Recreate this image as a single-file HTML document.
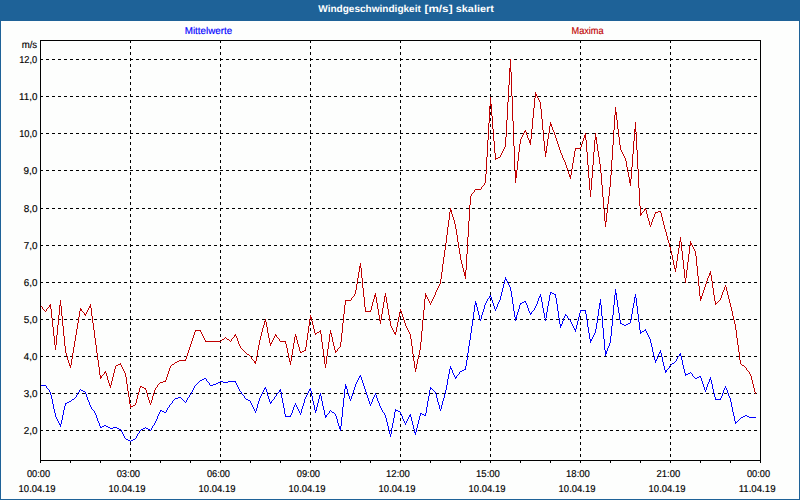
<!DOCTYPE html>
<html><head><meta charset="utf-8">
<style>
html,body{margin:0;padding:0;}
body{width:800px;height:500px;background:#1e6298;position:relative;overflow:hidden;font-family:"Liberation Sans",sans-serif;}
#panel{position:absolute;left:1px;top:21px;width:798px;height:478px;background:#fdfefd;}
svg{position:absolute;left:0;top:0;}
text{font-family:"Liberation Sans",sans-serif;font-size:10px;}
</style></head><body>
<div id="panel"></div>
<svg width="800" height="500" viewBox="0 0 800 500">
<g id="grid" stroke="#000" stroke-width="1" stroke-dasharray="3,3" shape-rendering="crispEdges" fill="none">
<line x1="40" y1="59.5" x2="760" y2="59.5"/>
<line x1="40" y1="96.5" x2="760" y2="96.5"/>
<line x1="40" y1="133.5" x2="760" y2="133.5"/>
<line x1="40" y1="170.5" x2="760" y2="170.5"/>
<line x1="40" y1="208.5" x2="760" y2="208.5"/>
<line x1="40" y1="245.5" x2="760" y2="245.5"/>
<line x1="40" y1="282.5" x2="760" y2="282.5"/>
<line x1="40" y1="319.5" x2="760" y2="319.5"/>
<line x1="40" y1="356.5" x2="760" y2="356.5"/>
<line x1="40" y1="393.5" x2="760" y2="393.5"/>
<line x1="40" y1="430.5" x2="760" y2="430.5"/>
<line x1="130.5" y1="40" x2="130.5" y2="460"/>
<line x1="220.5" y1="40" x2="220.5" y2="460"/>
<line x1="310.5" y1="40" x2="310.5" y2="460"/>
<line x1="400.5" y1="40" x2="400.5" y2="460"/>
<line x1="490.5" y1="40" x2="490.5" y2="460"/>
<line x1="580.5" y1="40" x2="580.5" y2="460"/>
<line x1="670.5" y1="40" x2="670.5" y2="460"/>
</g>
<g id="lines" stroke="none" shape-rendering="crispEdges">
<path fill="#c00000" d="M40 305h1v1h-1zM41 306h1v1h-1zM42 307h1v2h-1zM43 309h1v1h-1zM44 310h1v1h-1zM45 311h1v1h-1zM46 309h1v2h-1zM47 308h1v1h-1zM48 307h1v1h-1zM49 305h1v2h-1zM50 304h1v5h-1zM51 309h1v9h-1zM52 318h1v9h-1zM53 327h1v9h-1zM54 336h1v9h-1zM55 345h1v5h-1zM56 335h1v10h-1zM57 325h1v10h-1zM58 315h1v10h-1zM59 305h1v10h-1zM60 300h1v6h-1zM61 306h1v10h-1zM62 316h1v10h-1zM63 326h1v10h-1zM64 336h1v10h-1zM65 346h1v7h-1zM66 353h1v3h-1zM67 356h1v4h-1zM68 360h1v3h-1zM69 363h1v3h-1zM70 365h1v3h-1zM71 359h1v6h-1zM72 353h1v6h-1zM73 347h1v6h-1zM74 341h1v6h-1zM75 335h1v6h-1zM76 329h1v6h-1zM77 323h1v6h-1zM78 317h1v6h-1zM79 311h1v6h-1zM80 308h1v3h-1zM81 309h1v2h-1zM82 311h1v1h-1zM83 312h1v1h-1zM84 313h1v2h-1zM85 314h1v2h-1zM86 312h1v2h-1zM87 310h1v2h-1zM88 308h1v2h-1zM89 306h1v2h-1zM90 304h1v4h-1zM91 308h1v8h-1zM92 316h1v7h-1zM93 323h1v7h-1zM94 330h1v8h-1zM95 338h1v7h-1zM96 345h1v8h-1zM97 353h1v7h-1zM98 360h1v7h-1zM99 367h1v8h-1zM100 375h1v4h-1zM101 376h1v2h-1zM102 375h1v1h-1zM103 374h1v1h-1zM104 372h1v2h-1zM105 371h1v2h-1zM106 373h1v3h-1zM107 376h1v4h-1zM108 380h1v3h-1zM109 383h1v3h-1zM110 385h1v3h-1zM111 381h1v4h-1zM112 377h1v4h-1zM113 373h1v4h-1zM114 369h1v4h-1zM115 366h1v3h-1zM116 365h1v1h-1zM117 365h1v1h-1zM118 364h1v1h-1zM119 364h1v1h-1zM120 363h1v2h-1zM121 365h1v2h-1zM122 367h1v2h-1zM123 369h1v2h-1zM124 371h1v2h-1zM125 373h1v4h-1zM126 377h1v7h-1zM127 384h1v7h-1zM128 391h1v6h-1zM129 397h1v7h-1zM130 404h1v4h-1zM131 406h1v1h-1zM132 406h1v1h-1zM133 405h1v1h-1zM134 405h1v1h-1zM135 403h1v2h-1zM136 399h1v4h-1zM137 395h1v4h-1zM138 392h1v3h-1zM139 388h1v4h-1zM140 386h1v2h-1zM141 386h1v1h-1zM142 387h1v1h-1zM143 387h1v1h-1zM144 388h1v1h-1zM145 388h1v2h-1zM146 390h1v3h-1zM147 393h1v4h-1zM148 397h1v3h-1zM149 400h1v3h-1zM150 403h1v2h-1zM151 400h1v3h-1zM152 396h1v4h-1zM153 393h1v3h-1zM154 390h1v3h-1zM155 388h1v2h-1zM156 387h1v1h-1zM157 385h1v2h-1zM158 384h1v1h-1zM159 383h1v1h-1zM160 382h1v1h-1zM161 382h1v1h-1zM162 382h1v1h-1zM163 381h1v1h-1zM164 381h1v1h-1zM165 380h1v2h-1zM166 377h1v3h-1zM167 374h1v3h-1zM168 371h1v3h-1zM169 368h1v3h-1zM170 366h1v2h-1zM171 365h1v1h-1zM172 364h1v1h-1zM173 364h1v1h-1zM174 363h1v1h-1zM175 362h1v1h-1zM176 362h1v1h-1zM177 361h1v1h-1zM178 361h1v1h-1zM179 360h1v1h-1zM180 360h1v1h-1zM181 360h1v1h-1zM182 360h1v1h-1zM183 360h1v1h-1zM184 360h1v1h-1zM185 359h1v2h-1zM186 356h1v3h-1zM187 353h1v3h-1zM188 350h1v3h-1zM189 347h1v3h-1zM190 344h1v3h-1zM191 341h1v3h-1zM192 338h1v3h-1zM193 335h1v3h-1zM194 332h1v3h-1zM195 330h1v2h-1zM196 330h1v1h-1zM197 330h1v1h-1zM198 330h1v1h-1zM199 330h1v1h-1zM200 330h1v2h-1zM201 332h1v2h-1zM202 334h1v2h-1zM203 336h1v2h-1zM204 338h1v2h-1zM205 340h1v2h-1zM206 341h1v1h-1zM207 341h1v1h-1zM208 341h1v1h-1zM209 341h1v1h-1zM210 341h1v1h-1zM211 341h1v1h-1zM212 341h1v1h-1zM213 341h1v1h-1zM214 341h1v1h-1zM215 341h1v1h-1zM216 341h1v1h-1zM217 341h1v1h-1zM218 341h1v1h-1zM219 341h1v1h-1zM220 341h1v1h-1zM221 340h1v1h-1zM222 339h1v1h-1zM223 339h1v1h-1zM224 338h1v1h-1zM225 337h1v1h-1zM226 338h1v1h-1zM227 339h1v1h-1zM228 339h1v1h-1zM229 340h1v1h-1zM230 341h1v1h-1zM231 339h1v2h-1zM232 338h1v1h-1zM233 337h1v1h-1zM234 335h1v2h-1zM235 334h1v2h-1zM236 336h1v2h-1zM237 338h1v3h-1zM238 341h1v3h-1zM239 344h1v2h-1zM240 346h1v2h-1zM241 348h1v1h-1zM242 349h1v1h-1zM243 350h1v1h-1zM244 351h1v1h-1zM245 352h1v1h-1zM246 353h1v1h-1zM247 354h1v1h-1zM248 354h1v1h-1zM249 355h1v1h-1zM250 356h1v1h-1zM251 357h1v2h-1zM252 359h1v1h-1zM253 360h1v1h-1zM254 361h1v2h-1zM255 361h1v3h-1zM256 356h1v5h-1zM257 350h1v6h-1zM258 345h1v5h-1zM259 340h1v5h-1zM260 336h1v4h-1zM261 332h1v4h-1zM262 328h1v4h-1zM263 325h1v3h-1zM264 321h1v4h-1zM265 319h1v3h-1zM266 322h1v5h-1zM267 327h1v6h-1zM268 333h1v5h-1zM269 338h1v5h-1zM270 343h1v3h-1zM271 342h1v2h-1zM272 340h1v2h-1zM273 338h1v2h-1zM274 336h1v2h-1zM275 334h1v2h-1zM276 335h1v2h-1zM277 337h1v1h-1zM278 338h1v1h-1zM279 339h1v2h-1zM280 341h1v1h-1zM281 341h1v1h-1zM282 341h1v1h-1zM283 341h1v1h-1zM284 341h1v1h-1zM285 341h1v3h-1zM286 344h1v4h-1zM287 348h1v5h-1zM288 353h1v5h-1zM289 358h1v4h-1zM290 361h1v4h-1zM291 355h1v6h-1zM292 349h1v6h-1zM293 343h1v6h-1zM294 337h1v6h-1zM295 334h1v3h-1zM296 336h1v4h-1zM297 340h1v4h-1zM298 344h1v3h-1zM299 347h1v4h-1zM300 351h1v2h-1zM301 352h1v1h-1zM302 351h1v1h-1zM303 351h1v1h-1zM304 350h1v1h-1zM305 347h1v4h-1zM306 340h1v7h-1zM307 333h1v7h-1zM308 326h1v7h-1zM309 319h1v7h-1zM310 315h1v4h-1zM311 317h1v4h-1zM312 321h1v4h-1zM313 325h1v4h-1zM314 329h1v4h-1zM315 333h1v2h-1zM316 333h1v1h-1zM317 332h1v1h-1zM318 332h1v1h-1zM319 331h1v1h-1zM320 330h1v4h-1zM321 334h1v8h-1zM322 342h1v7h-1zM323 349h1v7h-1zM324 356h1v8h-1zM325 364h1v4h-1zM326 356h1v8h-1zM327 349h1v7h-1zM328 342h1v7h-1zM329 334h1v8h-1zM330 330h1v4h-1zM331 333h1v4h-1zM332 337h1v5h-1zM333 342h1v4h-1zM334 346h1v4h-1zM335 350h1v3h-1zM336 351h1v1h-1zM337 349h1v2h-1zM338 348h1v1h-1zM339 347h1v1h-1zM340 342h1v5h-1zM341 333h1v9h-1zM342 323h1v10h-1zM343 314h1v9h-1zM344 305h1v9h-1zM345 300h1v5h-1zM346 300h1v1h-1zM347 300h1v1h-1zM348 300h1v1h-1zM349 300h1v1h-1zM350 300h1v1h-1zM351 298h1v2h-1zM352 297h1v1h-1zM353 296h1v1h-1zM354 294h1v2h-1zM355 290h1v4h-1zM356 284h1v6h-1zM357 278h1v6h-1zM358 272h1v6h-1zM359 266h1v6h-1zM360 263h1v5h-1zM361 268h1v10h-1zM362 278h1v10h-1zM363 288h1v9h-1zM364 297h1v10h-1zM365 307h1v5h-1zM366 311h1v1h-1zM367 311h1v1h-1zM368 311h1v1h-1zM369 311h1v1h-1zM370 310h1v2h-1zM371 306h1v4h-1zM372 302h1v4h-1zM373 299h1v3h-1zM374 295h1v4h-1zM375 293h1v4h-1zM376 297h1v6h-1zM377 303h1v6h-1zM378 309h1v6h-1zM379 315h1v6h-1zM380 320h1v4h-1zM381 314h1v6h-1zM382 308h1v6h-1zM383 302h1v6h-1zM384 296h1v6h-1zM385 293h1v4h-1zM386 297h1v6h-1zM387 303h1v6h-1zM388 309h1v6h-1zM389 315h1v6h-1zM390 321h1v5h-1zM391 326h1v2h-1zM392 328h1v2h-1zM393 330h1v2h-1zM394 332h1v2h-1zM395 332h1v3h-1zM396 327h1v5h-1zM397 322h1v5h-1zM398 317h1v5h-1zM399 312h1v5h-1zM400 309h1v3h-1zM401 311h1v3h-1zM402 314h1v3h-1zM403 317h1v3h-1zM404 320h1v3h-1zM405 323h1v3h-1zM406 326h1v2h-1zM407 328h1v2h-1zM408 330h1v2h-1zM409 332h1v2h-1zM410 334h1v5h-1zM411 339h1v7h-1zM412 346h1v8h-1zM413 354h1v7h-1zM414 361h1v7h-1zM415 368h1v4h-1zM416 364h1v5h-1zM417 359h1v5h-1zM418 355h1v4h-1zM419 350h1v5h-1zM420 342h1v8h-1zM421 331h1v11h-1zM422 320h1v11h-1zM423 310h1v10h-1zM424 299h1v11h-1zM425 293h1v6h-1zM426 295h1v2h-1zM427 297h1v2h-1zM428 299h1v2h-1zM429 301h1v2h-1zM430 303h1v2h-1zM431 301h1v2h-1zM432 299h1v2h-1zM433 297h1v2h-1zM434 295h1v2h-1zM435 292h1v3h-1zM436 290h1v2h-1zM437 288h1v2h-1zM438 286h1v2h-1zM439 284h1v2h-1zM440 279h1v5h-1zM441 272h1v7h-1zM442 264h1v8h-1zM443 257h1v7h-1zM444 250h1v7h-1zM445 243h1v7h-1zM446 235h1v8h-1zM447 227h1v8h-1zM448 220h1v7h-1zM449 212h1v8h-1zM450 208h1v4h-1zM451 210h1v4h-1zM452 214h1v3h-1zM453 217h1v3h-1zM454 220h1v4h-1zM455 224h1v5h-1zM456 229h1v6h-1zM457 235h1v7h-1zM458 242h1v6h-1zM459 248h1v6h-1zM460 254h1v6h-1zM461 260h1v4h-1zM462 264h1v4h-1zM463 268h1v4h-1zM464 272h1v4h-1zM465 270h1v9h-1zM466 254h1v16h-1zM467 237h1v17h-1zM468 221h1v16h-1zM469 205h1v16h-1zM470 196h1v9h-1zM471 194h1v2h-1zM472 193h1v1h-1zM473 192h1v1h-1zM474 190h1v2h-1zM475 189h1v1h-1zM476 189h1v1h-1zM477 189h1v1h-1zM478 189h1v1h-1zM479 189h1v1h-1zM480 189h1v1h-1zM481 187h1v2h-1zM482 186h1v1h-1zM483 185h1v1h-1zM484 183h1v2h-1zM485 174h1v9h-1zM486 157h1v17h-1zM487 140h1v17h-1zM488 123h1v17h-1zM489 106h1v17h-1zM490 97h1v9h-1zM491 104h1v12h-1zM492 116h1v13h-1zM493 129h1v12h-1zM494 141h1v12h-1zM495 153h1v7h-1zM496 158h1v1h-1zM497 158h1v1h-1zM498 157h1v1h-1zM499 157h1v1h-1zM500 155h1v2h-1zM501 153h1v2h-1zM502 151h1v2h-1zM503 149h1v2h-1zM504 147h1v2h-1zM505 137h1v10h-1zM506 120h1v17h-1zM507 102h1v18h-1zM508 85h1v17h-1zM509 68h1v17h-1zM510 59h1v13h-1zM511 72h1v24h-1zM512 96h1v25h-1zM513 121h1v25h-1zM514 146h1v24h-1zM515 170h1v13h-1zM516 170h1v8h-1zM517 161h1v9h-1zM518 152h1v9h-1zM519 144h1v8h-1zM520 139h1v5h-1zM521 137h1v2h-1zM522 135h1v2h-1zM523 133h1v2h-1zM524 131h1v2h-1zM525 130h1v2h-1zM526 132h1v3h-1zM527 135h1v3h-1zM528 138h1v2h-1zM529 140h1v3h-1zM530 139h1v6h-1zM531 129h1v10h-1zM532 118h1v11h-1zM533 108h1v10h-1zM534 98h1v10h-1zM535 92h1v6h-1zM536 94h1v2h-1zM537 96h1v2h-1zM538 98h1v2h-1zM539 100h1v2h-1zM540 102h1v7h-1zM541 109h1v10h-1zM542 119h1v11h-1zM543 130h1v11h-1zM544 141h1v10h-1zM545 151h1v6h-1zM546 146h1v7h-1zM547 139h1v7h-1zM548 133h1v6h-1zM549 126h1v7h-1zM550 122h1v4h-1zM551 124h1v3h-1zM552 127h1v3h-1zM553 130h1v2h-1zM554 132h1v3h-1zM555 135h1v3h-1zM556 138h1v3h-1zM557 141h1v3h-1zM558 144h1v3h-1zM559 147h1v3h-1zM560 150h1v3h-1zM561 153h1v2h-1zM562 155h1v3h-1zM563 158h1v2h-1zM564 160h1v2h-1zM565 162h1v3h-1zM566 165h1v3h-1zM567 168h1v3h-1zM568 171h1v3h-1zM569 174h1v3h-1zM570 175h1v4h-1zM571 169h1v6h-1zM572 163h1v6h-1zM573 157h1v6h-1zM574 151h1v6h-1zM575 148h1v3h-1zM576 148h1v1h-1zM577 148h1v1h-1zM578 148h1v1h-1zM579 148h1v1h-1zM580 147h1v2h-1zM581 144h1v3h-1zM582 141h1v3h-1zM583 138h1v3h-1zM584 135h1v3h-1zM585 133h1v7h-1zM586 140h1v12h-1zM587 152h1v13h-1zM588 165h1v13h-1zM589 178h1v12h-1zM590 190h1v7h-1zM591 178h1v12h-1zM592 165h1v13h-1zM593 152h1v13h-1zM594 140h1v12h-1zM595 133h1v7h-1zM596 137h1v7h-1zM597 144h1v7h-1zM598 151h1v6h-1zM599 157h1v7h-1zM600 164h1v9h-1zM601 173h1v12h-1zM602 185h1v12h-1zM603 197h1v12h-1zM604 209h1v12h-1zM605 221h1v6h-1zM606 213h1v9h-1zM607 204h1v9h-1zM608 196h1v8h-1zM609 187h1v9h-1zM610 175h1v12h-1zM611 160h1v15h-1zM612 145h1v15h-1zM613 130h1v15h-1zM614 115h1v15h-1zM615 107h1v8h-1zM616 112h1v8h-1zM617 120h1v9h-1zM618 129h1v8h-1zM619 137h1v8h-1zM620 145h1v5h-1zM621 150h1v2h-1zM622 152h1v2h-1zM623 154h1v2h-1zM624 156h1v2h-1zM625 158h1v3h-1zM626 161h1v6h-1zM627 167h1v5h-1zM628 172h1v5h-1zM629 177h1v6h-1zM630 179h1v7h-1zM631 167h1v12h-1zM632 154h1v13h-1zM633 141h1v13h-1zM634 129h1v12h-1zM635 122h1v10h-1zM636 132h1v18h-1zM637 150h1v19h-1zM638 169h1v19h-1zM639 188h1v18h-1zM640 206h1v10h-1zM641 213h1v2h-1zM642 212h1v1h-1zM643 211h1v1h-1zM644 209h1v2h-1zM645 208h1v2h-1zM646 210h1v4h-1zM647 214h1v4h-1zM648 218h1v3h-1zM649 221h1v4h-1zM650 225h1v2h-1zM651 222h1v3h-1zM652 219h1v3h-1zM653 217h1v2h-1zM654 214h1v3h-1zM655 212h1v2h-1zM656 212h1v1h-1zM657 212h1v1h-1zM658 211h1v1h-1zM659 211h1v1h-1zM660 211h1v2h-1zM661 213h1v4h-1zM662 217h1v4h-1zM663 221h1v4h-1zM664 225h1v4h-1zM665 229h1v3h-1zM666 232h1v4h-1zM667 236h1v4h-1zM668 240h1v3h-1zM669 243h1v4h-1zM670 247h1v4h-1zM671 251h1v4h-1zM672 255h1v5h-1zM673 260h1v5h-1zM674 265h1v4h-1zM675 268h1v4h-1zM676 261h1v7h-1zM677 254h1v7h-1zM678 248h1v6h-1zM679 241h1v7h-1zM680 237h1v5h-1zM681 242h1v9h-1zM682 251h1v9h-1zM683 260h1v9h-1zM684 269h1v9h-1zM685 278h1v5h-1zM686 270h1v8h-1zM687 262h1v8h-1zM688 254h1v8h-1zM689 246h1v8h-1zM690 241h1v5h-1zM691 243h1v2h-1zM692 245h1v2h-1zM693 247h1v2h-1zM694 249h1v2h-1zM695 251h1v5h-1zM696 256h1v10h-1zM697 266h1v10h-1zM698 276h1v10h-1zM699 286h1v10h-1zM700 296h1v5h-1zM701 296h1v3h-1zM702 293h1v3h-1zM703 290h1v3h-1zM704 287h1v3h-1zM705 284h1v3h-1zM706 281h1v3h-1zM707 278h1v3h-1zM708 276h1v2h-1zM709 273h1v3h-1zM710 271h1v4h-1zM711 275h1v6h-1zM712 281h1v7h-1zM713 288h1v7h-1zM714 295h1v6h-1zM715 301h1v4h-1zM716 303h1v1h-1zM717 302h1v1h-1zM718 301h1v1h-1zM719 300h1v1h-1zM720 298h1v2h-1zM721 295h1v3h-1zM722 292h1v3h-1zM723 290h1v2h-1zM724 287h1v3h-1zM725 285h1v2h-1zM726 287h1v4h-1zM727 291h1v4h-1zM728 295h1v4h-1zM729 299h1v4h-1zM730 303h1v4h-1zM731 307h1v4h-1zM732 311h1v5h-1zM733 316h1v4h-1zM734 320h1v4h-1zM735 324h1v6h-1zM736 330h1v8h-1zM737 338h1v7h-1zM738 345h1v7h-1zM739 352h1v8h-1zM740 360h1v4h-1zM741 364h1v1h-1zM742 365h1v1h-1zM743 365h1v1h-1zM744 366h1v1h-1zM745 367h1v1h-1zM746 368h1v2h-1zM747 370h1v1h-1zM748 371h1v1h-1zM749 372h1v2h-1zM750 374h1v2h-1zM751 376h1v4h-1zM752 380h1v4h-1zM753 384h1v4h-1zM754 388h1v4h-1zM755 392h1v2h-1z"/>
<path fill="#0000ff" d="M40 385h1v1h-1zM41 385h1v1h-1zM42 385h1v1h-1zM43 385h1v1h-1zM44 385h1v1h-1zM45 385h1v1h-1zM46 386h1v2h-1zM47 388h1v1h-1zM48 389h1v1h-1zM49 390h1v2h-1zM50 392h1v3h-1zM51 395h1v4h-1zM52 399h1v5h-1zM53 404h1v5h-1zM54 409h1v4h-1zM55 413h1v4h-1zM56 417h1v2h-1zM57 419h1v2h-1zM58 421h1v2h-1zM59 423h1v2h-1zM60 424h1v3h-1zM61 420h1v4h-1zM62 415h1v5h-1zM63 410h1v5h-1zM64 406h1v4h-1zM65 403h1v3h-1zM66 403h1v1h-1zM67 402h1v1h-1zM68 402h1v1h-1zM69 401h1v1h-1zM70 401h1v1h-1zM71 400h1v1h-1zM72 399h1v1h-1zM73 399h1v1h-1zM74 398h1v1h-1zM75 397h1v1h-1zM76 395h1v2h-1zM77 393h1v2h-1zM78 392h1v1h-1zM79 390h1v2h-1zM80 389h1v1h-1zM81 390h1v1h-1zM82 390h1v1h-1zM83 391h1v1h-1zM84 391h1v1h-1zM85 392h1v2h-1zM86 394h1v3h-1zM87 397h1v3h-1zM88 400h1v2h-1zM89 402h1v3h-1zM90 405h1v2h-1zM91 407h1v2h-1zM92 409h1v1h-1zM93 410h1v1h-1zM94 411h1v2h-1zM95 413h1v2h-1zM96 415h1v3h-1zM97 418h1v3h-1zM98 421h1v2h-1zM99 423h1v3h-1zM100 426h1v2h-1zM101 427h1v1h-1zM102 426h1v1h-1zM103 426h1v1h-1zM104 425h1v1h-1zM105 425h1v1h-1zM106 426h1v1h-1zM107 426h1v1h-1zM108 427h1v1h-1zM109 427h1v1h-1zM110 428h1v1h-1zM111 428h1v1h-1zM112 428h1v1h-1zM113 427h1v1h-1zM114 427h1v1h-1zM115 427h1v1h-1zM116 427h1v1h-1zM117 428h1v1h-1zM118 428h1v1h-1zM119 429h1v1h-1zM120 429h1v1h-1zM121 430h1v2h-1zM122 432h1v2h-1zM123 434h1v2h-1zM124 436h1v2h-1zM125 438h1v1h-1zM126 439h1v1h-1zM127 439h1v1h-1zM128 440h1v1h-1zM129 440h1v1h-1zM130 441h1v1h-1zM131 440h1v1h-1zM132 440h1v1h-1zM133 439h1v1h-1zM134 439h1v1h-1zM135 438h1v1h-1zM136 436h1v2h-1zM137 434h1v2h-1zM138 433h1v1h-1zM139 431h1v2h-1zM140 430h1v1h-1zM141 429h1v1h-1zM142 429h1v1h-1zM143 428h1v1h-1zM144 428h1v1h-1zM145 427h1v1h-1zM146 428h1v1h-1zM147 428h1v1h-1zM148 429h1v1h-1zM149 429h1v1h-1zM150 430h1v1h-1zM151 428h1v2h-1zM152 426h1v2h-1zM153 425h1v1h-1zM154 423h1v2h-1zM155 421h1v2h-1zM156 419h1v2h-1zM157 416h1v3h-1zM158 414h1v2h-1zM159 412h1v2h-1zM160 410h1v2h-1zM161 410h1v1h-1zM162 411h1v1h-1zM163 411h1v1h-1zM164 412h1v1h-1zM165 412h1v1h-1zM166 410h1v2h-1zM167 408h1v2h-1zM168 407h1v1h-1zM169 405h1v2h-1zM170 404h1v1h-1zM171 403h1v1h-1zM172 401h1v2h-1zM173 400h1v1h-1zM174 399h1v1h-1zM175 398h1v1h-1zM176 398h1v1h-1zM177 398h1v1h-1zM178 397h1v1h-1zM179 397h1v1h-1zM180 397h1v1h-1zM181 398h1v1h-1zM182 399h1v1h-1zM183 400h1v1h-1zM184 401h1v1h-1zM185 402h1v1h-1zM186 400h1v2h-1zM187 398h1v2h-1zM188 397h1v1h-1zM189 395h1v2h-1zM190 394h1v1h-1zM191 392h1v2h-1zM192 390h1v2h-1zM193 388h1v2h-1zM194 386h1v2h-1zM195 385h1v1h-1zM196 384h1v1h-1zM197 383h1v1h-1zM198 382h1v1h-1zM199 381h1v1h-1zM200 380h1v1h-1zM201 380h1v1h-1zM202 379h1v1h-1zM203 379h1v1h-1zM204 378h1v1h-1zM205 378h1v1h-1zM206 379h1v2h-1zM207 381h1v1h-1zM208 382h1v1h-1zM209 383h1v2h-1zM210 385h1v1h-1zM211 385h1v1h-1zM212 385h1v1h-1zM213 384h1v1h-1zM214 384h1v1h-1zM215 384h1v1h-1zM216 383h1v1h-1zM217 383h1v1h-1zM218 382h1v1h-1zM219 382h1v1h-1zM220 381h1v1h-1zM221 381h1v1h-1zM222 381h1v1h-1zM223 382h1v1h-1zM224 382h1v1h-1zM225 382h1v1h-1zM226 382h1v1h-1zM227 382h1v1h-1zM228 381h1v1h-1zM229 381h1v1h-1zM230 381h1v1h-1zM231 381h1v1h-1zM232 381h1v1h-1zM233 381h1v1h-1zM234 381h1v1h-1zM235 381h1v2h-1zM236 383h1v2h-1zM237 385h1v2h-1zM238 387h1v2h-1zM239 389h1v2h-1zM240 391h1v1h-1zM241 392h1v2h-1zM242 394h1v1h-1zM243 395h1v1h-1zM244 396h1v2h-1zM245 398h1v1h-1zM246 399h1v1h-1zM247 399h1v1h-1zM248 400h1v1h-1zM249 400h1v1h-1zM250 401h1v2h-1zM251 403h1v2h-1zM252 405h1v2h-1zM253 407h1v2h-1zM254 409h1v2h-1zM255 411h1v2h-1zM256 408h1v3h-1zM257 404h1v4h-1zM258 401h1v3h-1zM259 398h1v3h-1zM260 396h1v2h-1zM261 394h1v2h-1zM262 392h1v2h-1zM263 390h1v2h-1zM264 388h1v2h-1zM265 387h1v2h-1zM266 389h1v3h-1zM267 392h1v4h-1zM268 396h1v3h-1zM269 399h1v3h-1zM270 402h1v2h-1zM271 401h1v2h-1zM272 400h1v1h-1zM273 399h1v1h-1zM274 397h1v2h-1zM275 396h1v1h-1zM276 394h1v2h-1zM277 393h1v1h-1zM278 392h1v1h-1zM279 390h1v2h-1zM280 389h1v3h-1zM281 392h1v6h-1zM282 398h1v5h-1zM283 403h1v5h-1zM284 408h1v6h-1zM285 414h1v3h-1zM286 416h1v1h-1zM287 416h1v1h-1zM288 416h1v1h-1zM289 416h1v1h-1zM290 415h1v2h-1zM291 413h1v2h-1zM292 410h1v3h-1zM293 407h1v3h-1zM294 405h1v2h-1zM295 403h1v2h-1zM296 405h1v2h-1zM297 407h1v2h-1zM298 409h1v2h-1zM299 411h1v2h-1zM300 413h1v2h-1zM301 409h1v4h-1zM302 406h1v3h-1zM303 403h1v3h-1zM304 399h1v4h-1zM305 397h1v2h-1zM306 395h1v2h-1zM307 393h1v2h-1zM308 391h1v2h-1zM309 389h1v2h-1zM310 388h1v3h-1zM311 391h1v5h-1zM312 396h1v5h-1zM313 401h1v4h-1zM314 405h1v5h-1zM315 410h1v3h-1zM316 407h1v4h-1zM317 403h1v4h-1zM318 399h1v4h-1zM319 395h1v4h-1zM320 393h1v3h-1zM321 396h1v5h-1zM322 401h1v5h-1zM323 406h1v4h-1zM324 410h1v5h-1zM325 415h1v3h-1zM326 415h1v2h-1zM327 414h1v1h-1zM328 413h1v1h-1zM329 411h1v2h-1zM330 410h1v1h-1zM331 411h1v1h-1zM332 412h1v1h-1zM333 412h1v1h-1zM334 413h1v1h-1zM335 414h1v2h-1zM336 416h1v3h-1zM337 419h1v4h-1zM338 423h1v3h-1zM339 426h1v3h-1zM340 426h1v5h-1zM341 417h1v9h-1zM342 407h1v10h-1zM343 398h1v9h-1zM344 389h1v9h-1zM345 384h1v5h-1zM346 386h1v3h-1zM347 389h1v4h-1zM348 393h1v3h-1zM349 396h1v3h-1zM350 399h1v2h-1zM351 396h1v3h-1zM352 393h1v3h-1zM353 390h1v3h-1zM354 387h1v3h-1zM355 384h1v3h-1zM356 382h1v2h-1zM357 380h1v2h-1zM358 378h1v2h-1zM359 376h1v2h-1zM360 375h1v2h-1zM361 377h1v3h-1zM362 380h1v3h-1zM363 383h1v3h-1zM364 386h1v3h-1zM365 389h1v3h-1zM366 392h1v3h-1zM367 395h1v3h-1zM368 398h1v3h-1zM369 401h1v3h-1zM370 404h1v2h-1zM371 402h1v2h-1zM372 399h1v3h-1zM373 397h1v2h-1zM374 395h1v2h-1zM375 393h1v2h-1zM376 395h1v3h-1zM377 398h1v3h-1zM378 401h1v2h-1zM379 403h1v3h-1zM380 406h1v2h-1zM381 408h1v2h-1zM382 410h1v2h-1zM383 412h1v1h-1zM384 413h1v2h-1zM385 415h1v3h-1zM386 418h1v4h-1zM387 422h1v4h-1zM388 426h1v4h-1zM389 430h1v4h-1zM390 434h1v3h-1zM391 428h1v6h-1zM392 423h1v5h-1zM393 418h1v5h-1zM394 412h1v6h-1zM395 409h1v3h-1zM396 410h1v1h-1zM397 410h1v1h-1zM398 411h1v1h-1zM399 411h1v1h-1zM400 412h1v2h-1zM401 414h1v2h-1zM402 416h1v3h-1zM403 419h1v2h-1zM404 421h1v2h-1zM405 423h1v2h-1zM406 421h1v2h-1zM407 419h1v2h-1zM408 417h1v2h-1zM409 415h1v2h-1zM410 414h1v3h-1zM411 417h1v4h-1zM412 421h1v4h-1zM413 425h1v4h-1zM414 429h1v4h-1zM415 432h1v3h-1zM416 428h1v4h-1zM417 424h1v4h-1zM418 420h1v4h-1zM419 416h1v4h-1zM420 413h1v3h-1zM421 413h1v1h-1zM422 414h1v1h-1zM423 414h1v1h-1zM424 415h1v1h-1zM425 413h1v3h-1zM426 407h1v6h-1zM427 401h1v6h-1zM428 396h1v5h-1zM429 390h1v6h-1zM430 387h1v3h-1zM431 388h1v1h-1zM432 389h1v1h-1zM433 390h1v1h-1zM434 391h1v1h-1zM435 392h1v2h-1zM436 394h1v4h-1zM437 398h1v4h-1zM438 402h1v3h-1zM439 405h1v4h-1zM440 409h1v2h-1zM441 405h1v4h-1zM442 401h1v4h-1zM443 398h1v3h-1zM444 394h1v4h-1zM445 390h1v4h-1zM446 385h1v5h-1zM447 379h1v6h-1zM448 374h1v5h-1zM449 369h1v5h-1zM450 366h1v3h-1zM451 368h1v2h-1zM452 370h1v3h-1zM453 373h1v2h-1zM454 375h1v2h-1zM455 377h1v2h-1zM456 376h1v2h-1zM457 375h1v1h-1zM458 374h1v1h-1zM459 372h1v2h-1zM460 371h1v1h-1zM461 371h1v1h-1zM462 370h1v1h-1zM463 370h1v1h-1zM464 369h1v1h-1zM465 366h1v4h-1zM466 360h1v6h-1zM467 353h1v7h-1zM468 346h1v7h-1zM469 340h1v6h-1zM470 333h1v7h-1zM471 326h1v7h-1zM472 319h1v7h-1zM473 312h1v7h-1zM474 305h1v7h-1zM475 301h1v4h-1zM476 303h1v4h-1zM477 307h1v4h-1zM478 311h1v4h-1zM479 315h1v4h-1zM480 319h1v2h-1zM481 315h1v4h-1zM482 312h1v3h-1zM483 309h1v3h-1zM484 305h1v4h-1zM485 303h1v2h-1zM486 301h1v2h-1zM487 299h1v2h-1zM488 298h1v1h-1zM489 296h1v2h-1zM490 295h1v2h-1zM491 297h1v3h-1zM492 300h1v3h-1zM493 303h1v3h-1zM494 306h1v3h-1zM495 309h1v2h-1zM496 307h1v2h-1zM497 304h1v3h-1zM498 302h1v2h-1zM499 300h1v2h-1zM500 296h1v4h-1zM501 292h1v4h-1zM502 288h1v4h-1zM503 284h1v4h-1zM504 280h1v4h-1zM505 277h1v3h-1zM506 279h1v2h-1zM507 281h1v2h-1zM508 283h1v2h-1zM509 285h1v2h-1zM510 287h1v4h-1zM511 291h1v6h-1zM512 297h1v7h-1zM513 304h1v7h-1zM514 311h1v6h-1zM515 317h1v4h-1zM516 315h1v4h-1zM517 312h1v3h-1zM518 309h1v3h-1zM519 305h1v4h-1zM520 303h1v2h-1zM521 303h1v1h-1zM522 302h1v1h-1zM523 302h1v1h-1zM524 301h1v1h-1zM525 301h1v2h-1zM526 303h1v2h-1zM527 305h1v3h-1zM528 308h1v3h-1zM529 311h1v2h-1zM530 313h1v2h-1zM531 312h1v2h-1zM532 311h1v1h-1zM533 310h1v1h-1zM534 308h1v2h-1zM535 306h1v2h-1zM536 304h1v2h-1zM537 301h1v3h-1zM538 298h1v3h-1zM539 296h1v2h-1zM540 294h1v3h-1zM541 297h1v5h-1zM542 302h1v6h-1zM543 308h1v5h-1zM544 313h1v5h-1zM545 318h1v3h-1zM546 312h1v6h-1zM547 306h1v6h-1zM548 301h1v5h-1zM549 295h1v6h-1zM550 292h1v3h-1zM551 292h1v1h-1zM552 293h1v1h-1zM553 293h1v1h-1zM554 294h1v1h-1zM555 294h1v4h-1zM556 298h1v6h-1zM557 304h1v7h-1zM558 311h1v7h-1zM559 318h1v6h-1zM560 324h1v4h-1zM561 324h1v2h-1zM562 321h1v3h-1zM563 318h1v3h-1zM564 316h1v2h-1zM565 314h1v2h-1zM566 315h1v1h-1zM567 316h1v2h-1zM568 318h1v1h-1zM569 319h1v1h-1zM570 320h1v2h-1zM571 322h1v2h-1zM572 324h1v2h-1zM573 326h1v2h-1zM574 328h1v2h-1zM575 329h1v3h-1zM576 325h1v4h-1zM577 321h1v4h-1zM578 317h1v4h-1zM579 313h1v4h-1zM580 310h1v3h-1zM581 310h1v1h-1zM582 310h1v1h-1zM583 310h1v1h-1zM584 310h1v1h-1zM585 310h1v4h-1zM586 314h1v6h-1zM587 320h1v7h-1zM588 327h1v6h-1zM589 333h1v6h-1zM590 339h1v4h-1zM591 339h1v2h-1zM592 337h1v2h-1zM593 335h1v2h-1zM594 333h1v2h-1zM595 329h1v4h-1zM596 323h1v6h-1zM597 316h1v7h-1zM598 309h1v7h-1zM599 303h1v6h-1zM600 299h1v6h-1zM601 305h1v11h-1zM602 316h1v12h-1zM603 328h1v11h-1zM604 339h1v11h-1zM605 350h1v6h-1zM606 351h1v3h-1zM607 348h1v3h-1zM608 346h1v2h-1zM609 343h1v3h-1zM610 336h1v7h-1zM611 326h1v10h-1zM612 315h1v11h-1zM613 305h1v10h-1zM614 295h1v10h-1zM615 289h1v6h-1zM616 293h1v7h-1zM617 300h1v7h-1zM618 307h1v6h-1zM619 313h1v7h-1zM620 320h1v4h-1zM621 323h1v1h-1zM622 324h1v1h-1zM623 324h1v1h-1zM624 325h1v1h-1zM625 325h1v1h-1zM626 324h1v1h-1zM627 324h1v1h-1zM628 323h1v1h-1zM629 323h1v1h-1zM630 320h1v3h-1zM631 314h1v6h-1zM632 308h1v6h-1zM633 303h1v5h-1zM634 297h1v6h-1zM635 294h1v4h-1zM636 298h1v8h-1zM637 306h1v8h-1zM638 314h1v8h-1zM639 322h1v8h-1zM640 330h1v4h-1zM641 332h1v1h-1zM642 331h1v1h-1zM643 331h1v1h-1zM644 330h1v1h-1zM645 329h1v2h-1zM646 331h1v2h-1zM647 333h1v2h-1zM648 335h1v2h-1zM649 337h1v2h-1zM650 339h1v4h-1zM651 343h1v4h-1zM652 347h1v5h-1zM653 352h1v4h-1zM654 356h1v4h-1zM655 360h1v3h-1zM656 359h1v2h-1zM657 356h1v3h-1zM658 354h1v2h-1zM659 352h1v2h-1zM660 350h1v3h-1zM661 353h1v4h-1zM662 357h1v5h-1zM663 362h1v4h-1zM664 366h1v4h-1zM665 370h1v3h-1zM666 370h1v2h-1zM667 369h1v1h-1zM668 368h1v1h-1zM669 366h1v2h-1zM670 365h1v1h-1zM671 364h1v1h-1zM672 363h1v1h-1zM673 363h1v1h-1zM674 362h1v1h-1zM675 361h1v1h-1zM676 359h1v2h-1zM677 357h1v2h-1zM678 356h1v1h-1zM679 354h1v2h-1zM680 353h1v3h-1zM681 356h1v4h-1zM682 360h1v5h-1zM683 365h1v4h-1zM684 369h1v4h-1zM685 373h1v3h-1zM686 374h1v1h-1zM687 374h1v1h-1zM688 373h1v1h-1zM689 373h1v1h-1zM690 372h1v1h-1zM691 373h1v1h-1zM692 374h1v2h-1zM693 376h1v1h-1zM694 377h1v1h-1zM695 378h1v1h-1zM696 378h1v1h-1zM697 377h1v1h-1zM698 377h1v1h-1zM699 376h1v1h-1zM700 376h1v2h-1zM701 378h1v3h-1zM702 381h1v3h-1zM703 384h1v3h-1zM704 387h1v3h-1zM705 390h1v2h-1zM706 387h1v3h-1zM707 384h1v3h-1zM708 382h1v2h-1zM709 379h1v3h-1zM710 377h1v3h-1zM711 380h1v4h-1zM712 384h1v5h-1zM713 389h1v4h-1zM714 393h1v4h-1zM715 397h1v3h-1zM716 399h1v1h-1zM717 399h1v1h-1zM718 399h1v1h-1zM719 399h1v1h-1zM720 398h1v2h-1zM721 396h1v2h-1zM722 393h1v3h-1zM723 390h1v3h-1zM724 388h1v2h-1zM725 386h1v2h-1zM726 388h1v2h-1zM727 390h1v3h-1zM728 393h1v3h-1zM729 396h1v2h-1zM730 398h1v4h-1zM731 402h1v5h-1zM732 407h1v5h-1zM733 412h1v4h-1zM734 416h1v5h-1zM735 421h1v3h-1zM736 422h1v1h-1zM737 421h1v1h-1zM738 420h1v1h-1zM739 419h1v1h-1zM740 418h1v1h-1zM741 417h1v1h-1zM742 417h1v1h-1zM743 416h1v1h-1zM744 416h1v1h-1zM745 415h1v1h-1zM746 415h1v1h-1zM747 416h1v1h-1zM748 416h1v1h-1zM749 417h1v1h-1zM750 417h1v1h-1zM751 417h1v1h-1zM752 417h1v1h-1zM753 417h1v1h-1zM754 417h1v1h-1zM755 417h1v1h-1z"/>
</g>
<g id="frame" stroke="#000" stroke-width="1" shape-rendering="crispEdges" fill="none">
<rect x="40.5" y="40.5" width="720" height="420"/>
<line x1="40.5" y1="460" x2="40.5" y2="463"/>
<line x1="70.5" y1="460" x2="70.5" y2="463"/>
<line x1="100.5" y1="460" x2="100.5" y2="463"/>
<line x1="130.5" y1="460" x2="130.5" y2="463"/>
<line x1="160.5" y1="460" x2="160.5" y2="463"/>
<line x1="190.5" y1="460" x2="190.5" y2="463"/>
<line x1="220.5" y1="460" x2="220.5" y2="463"/>
<line x1="250.5" y1="460" x2="250.5" y2="463"/>
<line x1="280.5" y1="460" x2="280.5" y2="463"/>
<line x1="310.5" y1="460" x2="310.5" y2="463"/>
<line x1="340.5" y1="460" x2="340.5" y2="463"/>
<line x1="370.5" y1="460" x2="370.5" y2="463"/>
<line x1="400.5" y1="460" x2="400.5" y2="463"/>
<line x1="430.5" y1="460" x2="430.5" y2="463"/>
<line x1="460.5" y1="460" x2="460.5" y2="463"/>
<line x1="490.5" y1="460" x2="490.5" y2="463"/>
<line x1="520.5" y1="460" x2="520.5" y2="463"/>
<line x1="550.5" y1="460" x2="550.5" y2="463"/>
<line x1="580.5" y1="460" x2="580.5" y2="463"/>
<line x1="610.5" y1="460" x2="610.5" y2="463"/>
<line x1="640.5" y1="460" x2="640.5" y2="463"/>
<line x1="670.5" y1="460" x2="670.5" y2="463"/>
<line x1="700.5" y1="460" x2="700.5" y2="463"/>
<line x1="730.5" y1="460" x2="730.5" y2="463"/>
<line x1="760.5" y1="460" x2="760.5" y2="463"/>
</g>
<g id="labels" fill="#000" stroke-width="0.15" paint-order="stroke" text-rendering="geometricPrecision">
<text id="t0" x="21.70" y="48" textLength="15.46" lengthAdjust="spacingAndGlyphs" stroke="#000">m/s</text>
<text id="t1" x="19.13" y="63" textLength="18.03" lengthAdjust="spacingAndGlyphs" stroke="#000">12,0</text>
<text id="t2" x="19.04" y="100" textLength="18.33" lengthAdjust="spacingAndGlyphs" stroke="#000">11,0</text>
<text id="t3" x="19.13" y="137" textLength="18.03" lengthAdjust="spacingAndGlyphs" stroke="#000">10,0</text>
<text id="t4" x="23.62" y="174" textLength="13.78" lengthAdjust="spacingAndGlyphs" stroke="#000">9,0</text>
<text id="t5" x="23.64" y="212" textLength="13.85" lengthAdjust="spacingAndGlyphs" stroke="#000">8,0</text>
<text id="t6" x="23.68" y="249" textLength="13.72" lengthAdjust="spacingAndGlyphs" stroke="#000">7,0</text>
<text id="t7" x="23.80" y="286" textLength="13.62" lengthAdjust="spacingAndGlyphs" stroke="#000">6,0</text>
<text id="t8" x="23.67" y="323" textLength="13.82" lengthAdjust="spacingAndGlyphs" stroke="#000">5,0</text>
<text id="t9" x="23.86" y="360" textLength="13.39" lengthAdjust="spacingAndGlyphs" stroke="#000">4,0</text>
<text id="t10" x="23.78" y="397" textLength="13.73" lengthAdjust="spacingAndGlyphs" stroke="#000">3,0</text>
<text id="t11" x="23.72" y="434" textLength="13.71" lengthAdjust="spacingAndGlyphs" stroke="#000">2,0</text>
<text id="t12" x="26.91" y="477" textLength="23.12" lengthAdjust="spacingAndGlyphs" stroke="#000">00:00</text>
<text id="t13" x="18.61" y="492" textLength="36.86" lengthAdjust="spacingAndGlyphs" stroke="#000">10.04.19</text>
<text id="t14" x="116.66" y="477" textLength="23.40" lengthAdjust="spacingAndGlyphs" stroke="#000">03:00</text>
<text id="t15" x="108.61" y="492" textLength="36.86" lengthAdjust="spacingAndGlyphs" stroke="#000">10.04.19</text>
<text id="t16" x="206.90" y="477" textLength="23.12" lengthAdjust="spacingAndGlyphs" stroke="#000">06:00</text>
<text id="t17" x="198.61" y="492" textLength="36.86" lengthAdjust="spacingAndGlyphs" stroke="#000">10.04.19</text>
<text id="t18" x="296.73" y="477" textLength="23.28" lengthAdjust="spacingAndGlyphs" stroke="#000">09:00</text>
<text id="t19" x="288.61" y="492" textLength="36.86" lengthAdjust="spacingAndGlyphs" stroke="#000">10.04.19</text>
<text id="t20" x="386.09" y="477" textLength="23.82" lengthAdjust="spacingAndGlyphs" stroke="#000">12:00</text>
<text id="t21" x="378.61" y="492" textLength="36.86" lengthAdjust="spacingAndGlyphs" stroke="#000">10.04.19</text>
<text id="t22" x="476.09" y="477" textLength="23.82" lengthAdjust="spacingAndGlyphs" stroke="#000">15:00</text>
<text id="t23" x="468.61" y="492" textLength="36.86" lengthAdjust="spacingAndGlyphs" stroke="#000">10.04.19</text>
<text id="t24" x="566.09" y="477" textLength="23.82" lengthAdjust="spacingAndGlyphs" stroke="#000">18:00</text>
<text id="t25" x="558.61" y="492" textLength="36.86" lengthAdjust="spacingAndGlyphs" stroke="#000">10.04.19</text>
<text id="t26" x="656.60" y="477" textLength="23.57" lengthAdjust="spacingAndGlyphs" stroke="#000">21:00</text>
<text id="t27" x="648.61" y="492" textLength="36.86" lengthAdjust="spacingAndGlyphs" stroke="#000">10.04.19</text>
<text id="t28" x="746.91" y="477" textLength="23.12" lengthAdjust="spacingAndGlyphs" stroke="#000">00:00</text>
<text id="t29" x="738.66" y="492" textLength="36.86" lengthAdjust="spacingAndGlyphs" stroke="#000">11.04.19</text>
<text id="t30" x="184.74" y="34" textLength="47.41" lengthAdjust="spacingAndGlyphs" fill="#0000ff" stroke="#0000ff">Mittelwerte</text>
<text id="t31" x="571.48" y="34" textLength="32.18" lengthAdjust="spacingAndGlyphs" fill="#c00000" stroke="#c00000">Maxima</text>
<text id="t32" x="318.29" y="12" textLength="102.54" lengthAdjust="spacingAndGlyphs" fill="#ffffff" font-weight="bold" stroke="none">Windgeschwindigkeit</text>
<text id="t33" x="424.55" y="12" textLength="28.01" lengthAdjust="spacingAndGlyphs" fill="#ffffff" font-weight="bold" stroke="none">[m/s]</text>
<text id="t34" x="455.83" y="12" textLength="37.92" lengthAdjust="spacingAndGlyphs" fill="#ffffff" font-weight="bold" stroke="none">skaliert</text>
</g>
</svg>
</body></html>
